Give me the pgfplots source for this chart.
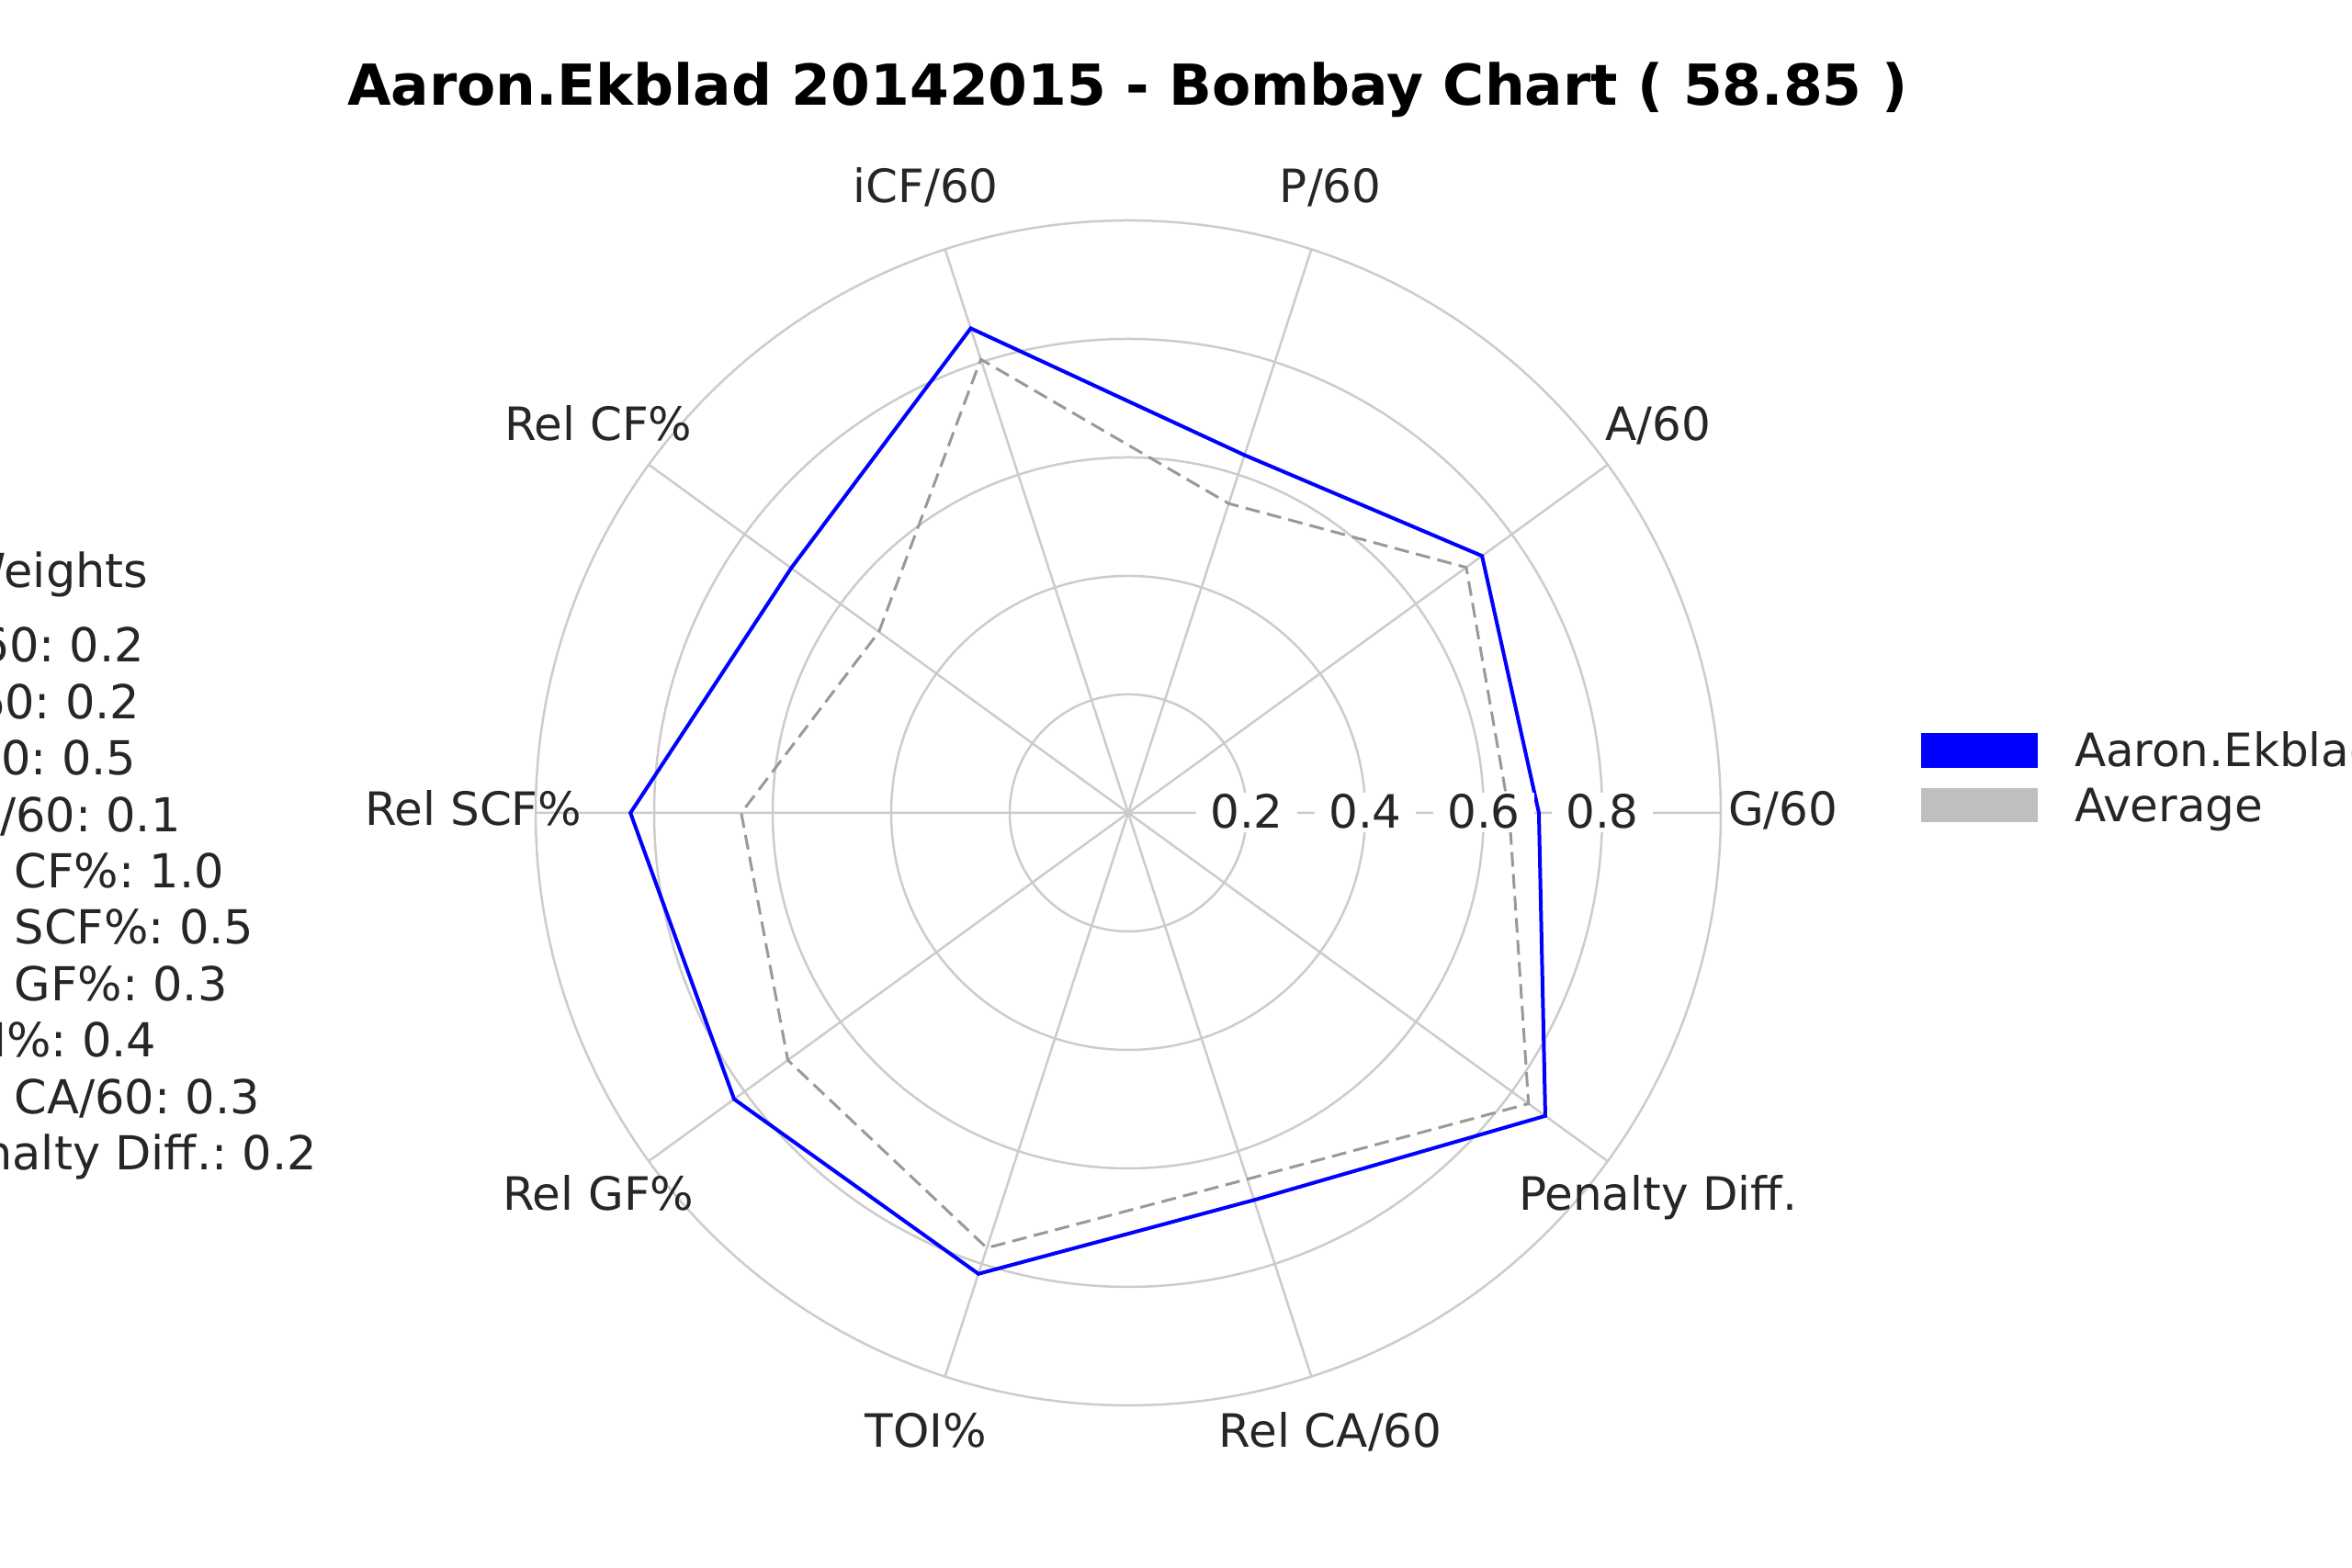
\documentclass[border=0pt]{standalone}
\usepackage{fontspec}
\setmainfont{DejaVu Sans}
\usepackage{pgfplots}
\pgfplotsset{compat=1.18}
\usepgfplotslibrary{polar}
\definecolor{gridc}{HTML}{CCCCCC}
\definecolor{avgc}{HTML}{999999}
\definecolor{txt}{HTML}{262626}
\definecolor{legavg}{HTML}{BFBFBF}
\frenchspacing
\begin{document}
\frenchspacing
\begin{tikzpicture}
\useasboundingbox (0,0) rectangle (512pt,341.4pt);
\clip (0,0) rectangle (512pt,341.4pt);
\begin{polaraxis}[
  at={(245.6pt,164.4pt)}, anchor=center,
  scale only axis, width=258pt, height=258pt,
  xmin=0, xmax=360, ymin=0, ymax=1,
  xtick={0,36,...,324}, ytick={0.2,0.4,0.6,0.8,1.0},
  xticklabels={,,}, yticklabels={,,},
  xmajorgrids, ymajorgrids,
  major grid style={draw=gridc, line width=0.5pt},
  axis line style={draw=none},
  major tick length=0pt,
  clip=false,
  font=\fontsize{10}{12}\selectfont,
]
% Average
\addplot[avgc, line width=0.6pt, dash pattern=on 3.2pt off 1.6pt] coordinates {
 (0,0.643) (36,0.705) (72,0.549) (108,0.805) (144,0.520) (180,0.653)
 (216,0.710) (252,0.772) (288,0.650) (324,0.835) (360,0.643)};
% Player
\addplot[blue, line width=0.8pt] coordinates {
 (0,0.693) (36,0.738) (72,0.635) (108,0.860) (144,0.703) (180,0.840)
 (216,0.822) (252,0.818) (288,0.687) (324,0.870) (360,0.693)};
% angular labels
\tikzset{lab/.style={anchor=center, inner sep=0pt, text=txt, text height=0.76em, text depth=0.236em}}
\node[lab] at (axis cs:0,1.105) {G/60};
\node[lab] at (axis cs:36,1.105) {A/60};
\node[lab] at (axis cs:72,1.105) {P/60};
\node[lab] at (axis cs:108,1.105) {iCF/60};
\node[lab] at (axis cs:144,1.105) {Rel CF\%};
\node[lab] at (axis cs:180,1.105) {Rel SCF\%};
\node[lab] at (axis cs:216,1.105) {Rel GF\%};
\node[lab] at (axis cs:252,1.105) {TOI\%};
\node[lab] at (axis cs:288,1.105) {Rel CA/60};
\node[lab] at (axis cs:324,1.105) {Penalty Diff.};
% radial labels
\tikzset{rlab/.style={anchor=center, fill=white, inner xsep=3pt, inner ysep=0pt, text=txt, text height=0.76em, text depth=0.1em}}
\node[rlab] at (axis cs:0,0.2) {0.2};
\node[rlab] at (axis cs:0,0.4) {0.4};
\node[rlab] at (axis cs:0,0.6) {0.6};
\node[rlab] at (axis cs:0,0.8) {0.8};
\end{polaraxis}
% title
\node[anchor=base, inner sep=0pt, font=\fontsize{12.3}{14}\selectfont\bfseries] at (245.4pt,318.4pt)
  {Aaron.Ekblad 20142015 - Bombay Chart ( 58.85 )};
% weights box
\begin{scope}[every node/.style={anchor=base west, inner sep=0pt, text=txt, font=\fontsize{10.2}{12}\selectfont\frenchspacing}]
\node at (-8.8pt,213.4pt) {Weights};
\node at (-16pt,197.2pt) {G/60: 0.2};
\node at (-16pt,184.92pt) {A/60: 0.2};
\node at (-16pt,172.64pt) {P/60: 0.5};
\node at (-16pt,160.36pt) {iCF/60: 0.1};
\node at (-16pt,148.08pt) {Rel CF\%: 1.0};
\node at (-16pt,135.8pt) {Rel SCF\%: 0.5};
\node at (-16pt,123.52pt) {Rel GF\%: 0.3};
\node at (-16pt,111.24pt) {TOI\%: 0.4};
\node at (-16pt,98.96pt) {Rel CA/60: 0.3};
\node at (-16pt,86.68pt) {Penalty Diff.: 0.2};
\end{scope}
% legend
\begin{scope}[every node/.style={anchor=base west, inner sep=0pt, text=txt, font=\fontsize{10}{12}\selectfont}]
\fill[blue] (418.2pt,174.2pt) rectangle (443.6pt,181.8pt);
\fill[legavg] (418.2pt,162.4pt) rectangle (443.6pt,169.8pt);
\node at (451.4pt,174.4pt) {Aaron.Ekblad};
\node at (451.4pt,162.4pt) {Average};
\end{scope}
\end{tikzpicture}
\end{document}
